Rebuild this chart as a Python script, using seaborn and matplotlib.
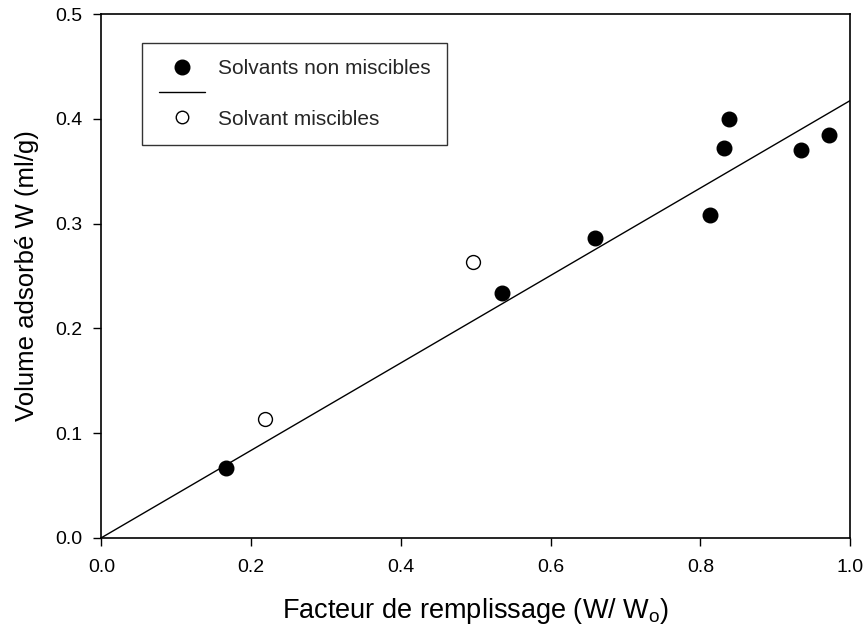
import matplotlib
matplotlib.use("Agg")
import matplotlib.pyplot as plt
import seaborn as sns
import pandas as pd
from matplotlib.lines import Line2D

# Data
x_non_miscible = [0.166, 0.535, 0.659, 0.813, 0.832, 0.838, 0.934, 0.972]
y_non_miscible = [0.0667, 0.234, 0.286, 0.308, 0.372, 0.400, 0.370, 0.385]
x_miscible = [0.218, 0.496]
y_miscible = [0.113, 0.2635]
fit_x = [0.0, 1.0]
fit_y = [0.0, 0.4175]
x_ticks = [0.0, 0.2, 0.4, 0.6, 0.8, 1.0]
y_ticks = [0.0, 0.1, 0.2, 0.3, 0.4, 0.5]

sns.set_theme(style="ticks")
plt.rcParams['font.family'] = ['Liberation Sans', 'DejaVu Sans']
plt.rcParams['mathtext.fontset'] = 'custom'
plt.rcParams['mathtext.rm'] = 'Liberation Sans'
plt.rcParams['mathtext.it'] = 'Liberation Sans'

fig = plt.figure(figsize=(8.68, 6.32), dpi=100)
ax = fig.add_axes([0.1169, 0.1492, 0.8624, 0.8282])

df_nm = pd.DataFrame({"x": x_non_miscible, "y": y_non_miscible})
df_m = pd.DataFrame({"x": x_miscible, "y": y_miscible})
df_fit = pd.DataFrame({"x": fit_x, "y": fit_y})

sns.lineplot(data=df_fit, x="x", y="y", ax=ax, color="black", linewidth=1.0, zorder=2)
sns.scatterplot(data=df_nm, x="x", y="y", ax=ax, color="black", s=110,
                edgecolor="black", linewidth=1, zorder=3)
sns.scatterplot(data=df_m, x="x", y="y", ax=ax, facecolor="white", s=100,
                edgecolor="black", linewidth=1.0, zorder=3)

ax.set_xlim(0, 1.0)
ax.set_ylim(0, 0.5)
ax.set_xticks(x_ticks)
ax.set_yticks(y_ticks)
ax.set_xticklabels([f"{v:.1f}" for v in x_ticks])
ax.set_yticklabels([f"{v:.1f}" for v in y_ticks])
ax.tick_params(axis="both", direction="out", length=5.5, width=1.0,
               labelsize=14, color="black", labelcolor="black")
ax.tick_params(axis="x", pad=10)
ax.tick_params(axis="y", pad=8)
for sp in ax.spines.values():
    sp.set_visible(True)
    sp.set_color("black")
    sp.set_linewidth(1.2)

ax.set_xlabel(r"Facteur de remplissage (W/ W$_\mathregular{o}$)", fontsize=19.5,
              labelpad=14, color="black")
ax.set_ylabel("Volume adsorbé W (ml/g)", fontsize=18.5, labelpad=11.5, color="black")

handles = [
    Line2D([], [], marker="o", color="black", linestyle="none", markersize=10.5,
           markerfacecolor="black", markeredgecolor="black"),
    Line2D([], [], color="black", linewidth=1.0),
    Line2D([], [], marker="o", color="black", linestyle="none", markersize=9.0,
           markerfacecolor="white", markeredgecolor="black"),
]
labels = ["Solvants non miscibles", "", "Solvant miscibles"]
leg = ax.legend(handles, labels, loc="upper left", bbox_to_anchor=(0.054, 0.946),
                fontsize=15, frameon=True, fancybox=False, handlelength=2.24,
                borderpad=0.8, labelspacing=0.3, handletextpad=0.62, borderaxespad=0)
leg.get_frame().set_edgecolor("black")
leg.get_frame().set_linewidth(1.0)

fig.savefig("out.png", dpi=100, facecolor="white")
